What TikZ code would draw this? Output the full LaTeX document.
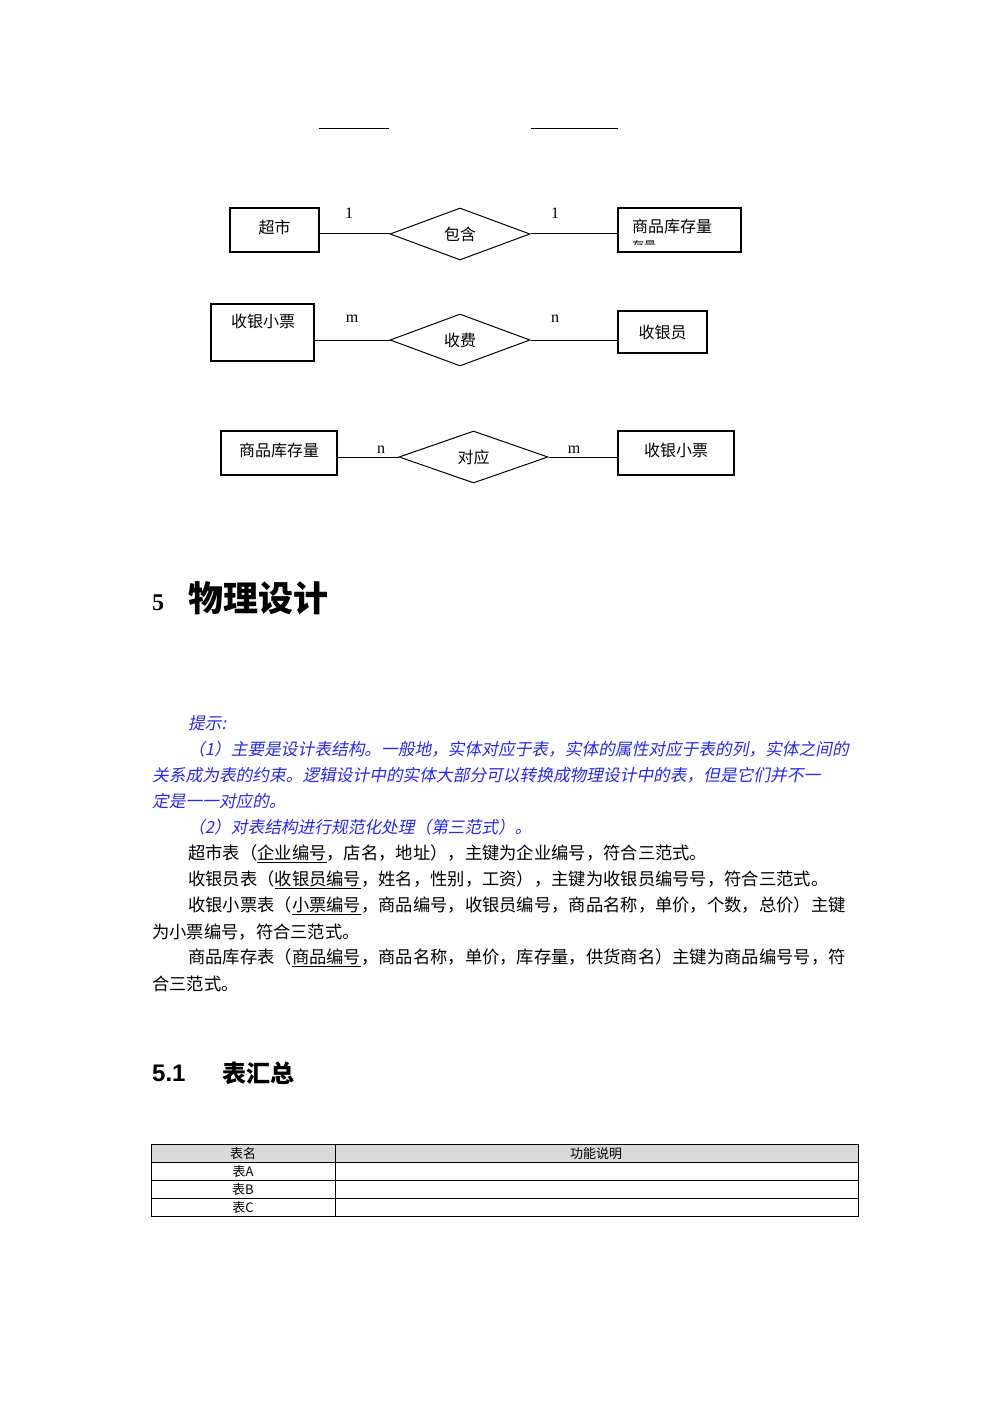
\documentclass[tikz,border=0pt]{standalone}
\usepackage{fontspec}
\setmainfont{Liberation Serif}
\newfontfamily\cjk{Noto Sans CJK SC}
\newfontfamily\cjki[FakeSlant=0.2]{Noto Sans CJK SC}
\newfontfamily\hsans{Liberation Sans}
\usetikzlibrary{shapes.geometric}
\definecolor{hintblue}{RGB}{40,40,230}
\begin{document}
\begin{tikzpicture}[x=1pt,y=-1pt,
  ent/.style={draw,line width=1.2pt,minimum height=44pt,inner sep=0pt,font=\cjk\fontsize{15}{15}\selectfont},
  rel/.style={draw,diamond,aspect=2.7,line width=1pt,inner sep=0pt,font=\cjk\fontsize{16}{16}\selectfont},
  lbl/.style={font=\fontsize{16}{16}\selectfont},
  conn/.style={line width=1pt},
  ln/.style={anchor=west,inner sep=0pt,font=\cjk\fontsize{17.3}{17.3}\selectfont},
  hl/.style={ln,text=hintblue,font=\cjki\fontsize{16.7}{16.7}\selectfont}]
\useasboundingbox (0,0) rectangle (1000,1415);
\draw[line width=1pt] (319,129) -- (389,129) (531,129) -- (618,129);
% row 1
\node[ent,minimum width=89pt] (a1) at (274.5,230) {\raisebox{6pt}{\fontsize{16}{16}\selectfont 超市}};
\node[rel,minimum width=140pt,minimum height=52pt] (r1) at (460,234) {\raisebox{-10pt}{包含}};
\node[ent,minimum width=123pt] (b1) at (679.5,230) {};
\node[anchor=west,inner sep=0pt,font=\cjk\fontsize{16}{16}\selectfont] (b1t) at (632,226) {商品库存量};
\begin{scope}
\clip (620,238) rectangle (740,245);
\node[anchor=west,inner sep=0pt,font=\cjk\fontsize{12}{12}\selectfont] (b1s) at (632,246) {存量};
\end{scope}
\draw[conn] (a1.east |- r1.west) -- (r1.west) (r1.east) -- (b1.west |- r1.east);
\node[lbl] (l1) at (349,213) {1};
\node[lbl] (l2) at (555,213) {1};
% row 2
\node[ent,minimum width=103pt,minimum height=57pt] (a2) at (262.5,332.5) {};
\node[inner sep=0pt,font=\cjk\fontsize{16}{16}\selectfont] (a2t) at (263,321) {收银小票};
\node[rel,minimum width=140pt,minimum height=52pt] (r2) at (460,340) {\raisebox{-8pt}{收费}};
\node[ent,minimum width=89pt,minimum height=42pt] (b2) at (662.5,332) {\fontsize{16}{16}\selectfont 收银员};
\draw[conn] (a2.east |- r2.west) -- (r2.west) (r2.east) -- (b2.west |- r2.east);
\node[lbl] (l3) at (352,319) {m};
\node[lbl] (l4) at (555,319) {n};
% row 3
\node[ent,minimum width=116pt] (a3) at (279,453) {\raisebox{6pt}{\fontsize{16}{16}\selectfont 商品库存量}};
\node[rel,minimum width=149pt,minimum height=52pt] (r3) at (473.5,457) {\raisebox{-8pt}{对应}};
\node[ent,minimum width=116pt] (b3) at (676,453) {\raisebox{6pt}{\fontsize{16}{16}\selectfont 收银小票}};
\draw[conn] (a3.east |- r3.west) -- (r3.west) (r3.east) -- (b3.west |- r3.east);
\node[lbl] (l5) at (381,450) {n};
\node[lbl] (l6) at (574,450) {m};
% heading
\node[anchor=west,inner sep=0pt,font=\bfseries\fontsize{24}{24}\selectfont] (h5) at (152,603) {5};
\node[anchor=west,inner sep=0pt,font=\cjk\bfseries\fontsize{35}{35}\selectfont] (h5t) at (188,598) {物理设计};
% hint
\node[hl] (t1) at (188,723) {提示:};
\node[hl] (t2) at (188,749) {（1）主要是设计表结构。一般地，实体对应于表，实体的属性对应于表的列，实体之间的};
\node[hl] (t3) at (152,775) {关系成为表的约束。逻辑设计中的实体大部分可以转换成物理设计中的表，但是它们并不一};
\node[hl] (t4) at (152,801) {定是一一对应的。};
\node[hl] (t5) at (188,827) {（2）对表结构进行规范化处理（第三范式）。};
\node[ln] (t6) at (188,854) {超市表（\underline{企业编号}，店名，地址），主键为企业编号，符合三范式。};
\node[ln] (t7) at (188,880) {收银员表（\underline{收银员编号}，姓名，性别，工资），主键为收银员编号号，符合三范式。};
\node[ln] (t8) at (188,906) {收银小票表（\underline{小票编号}，商品编号，收银员编号，商品名称，单价，个数，总价）主键};
\node[ln] (t9) at (152,932) {为小票编号，符合三范式。};
\node[ln] (t10) at (188,958) {商品库存表（\underline{商品编号}，商品名称，单价，库存量，供货商名）主键为商品编号号，符};
\node[ln] (t11) at (152,984) {合三范式。};
% 5.1
\node[anchor=west,inner sep=0pt,font=\hsans\bfseries\fontsize{24}{24}\selectfont] (h51) at (152,1073) {5.1};
\node[anchor=west,inner sep=0pt,font=\cjk\bfseries\fontsize{24}{24}\selectfont] (h51t) at (222,1073) {表汇总};
% table
\fill[gray!30] (151,1144) rectangle (858,1162);
\draw[line width=1pt] (151,1144) rectangle (858,1216);
\draw[line width=0.9pt] (151,1162) -- (858,1162) (151,1180) -- (858,1180) (151,1198) -- (858,1198) (335,1144) -- (335,1216);
\tikzset{tc/.style={inner sep=0pt,font=\cjk\fontsize{13}{13}\selectfont}}
\node[tc] (c1) at (243,1154) {表名};
\node[tc] (c2) at (596,1154) {功能说明};
\node[tc] (c3) at (243,1172) {表A};
\node[tc] (c4) at (243,1190) {表B};
\node[tc] (c5) at (243,1208) {表C};
\end{tikzpicture}
\end{document}
